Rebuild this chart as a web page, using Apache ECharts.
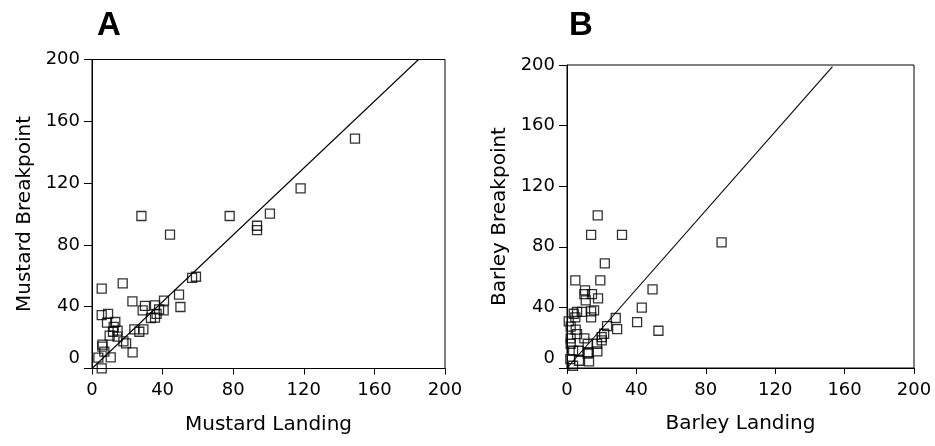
<!DOCTYPE html>
<html><head><meta charset="utf-8">
<script src="https://cdn.jsdelivr.net/npm/echarts@6/dist/echarts.min.js"></script>
<style>html,body{margin:0;padding:0;background:#fff}#c{width:935px;height:446px}</style>
</head><body><div id="c"></div>
<script>
const panelLabels = ['A', 'B'];
const xNames = ['Mustard Landing', 'Barley Landing'];
const yNames = ['Mustard Breakpoint', 'Barley Breakpoint'];
const tickValues = [0, 40, 80, 120, 160, 200];

// Panel A: [landing, breakpoint]
const mustardPoints = [
  [149.0,148.8],[118.2,116.6],[100.8,100.2],[78.0,98.7],[93.5,92.4],[93.5,89.6],
  [28.0,98.7],[44.2,86.6],[58.9,59.4],[56.7,58.6],[17.4,55.1],[5.5,51.7],
  [49.3,47.8],[50.1,39.8],[22.9,43.5],[40.8,43.9],[30.0,40.5],[35.7,40.9],
  [28.7,37.6],[40.6,37.6],[38.0,38.3],[36.6,35.3],[35.7,32.9],[33.4,32.7],
  [5.5,34.6],[9.1,35.3],[8.5,29.7],[13.2,30.1],[12.3,26.9],[14.5,24.5],
  [11.9,23.8],[10.0,21.3],[14.4,20.6],[24.0,25.3],[26.8,23.8],[29.1,25.3],
  [17.8,17.6],[19.3,16.3],[5.9,15.4],[5.9,14.1],[7.0,10.9],[23.0,10.5],
  [3.6,7.0],[10.6,7.2],[5.5,0.1]
];
// Panel B: [landing, breakpoint]
const barleyPoints = [
  [89.1,82.9],[17.7,100.7],[13.9,87.9],[31.7,87.9],[21.8,69.0],[4.8,57.8],
  [19.2,57.8],[49.3,51.9],[10.4,51.2],[10.0,48.8],[14.4,48.8],[10.8,44.6],
  [17.9,45.9],[43.1,39.8],[28.1,33.0],[40.4,30.3],[52.7,24.6],[28.9,25.7],
  [23.1,27.7],[15.6,38.0],[13.9,37.4],[13.9,33.4],[8.5,37.1],[5.8,37.1],
  [3.9,35.8],[4.8,33.4],[1.0,30.8],[2.1,27.3],[5.0,25.3],[5.8,22.4],
  [2.1,19.6],[10.0,19.6],[2.1,16.0],[11.9,16.0],[20.0,18.2],[20.0,20.4],
  [21.4,22.6],[17.3,16.0],[3.5,11.4],[6.7,11.4],[12.5,10.3],[17.5,11.0],
  [11.9,9.5],[1.9,5.9],[6.9,4.8],[12.7,4.4],[3.5,1.5]
];
// Fitted lines (endpoints)
const mustardLine = [[0,0],[185,200]];
const barleyLine = [[0,0],[153,199]];

const FONT = '"DejaVu Sans", Arial, sans-serif';
const TFONT = '"Liberation Sans", Arial, sans-serif';
const grids = [
  {left: 92, top: 59.5, width: 353, height: 309},
  {left: 567, top: 65, width: 347, height: 303}
];

function xAxis(i) {
  return {
    gridIndex: i, type: 'value', min: 0, max: 200, interval: 40,
    name: xNames[i], nameLocation: 'middle', nameGap: 46,
    nameTextStyle: {fontFamily: FONT, fontSize: 20, color: '#000'},
    axisLine: {show: true, onZero: false, lineStyle: {color: '#000', width: 1}},
    axisTick: {show: true, length: 6, lineStyle: {color: '#000'}},
    axisLabel: {fontFamily: FONT, fontSize: 18, color: '#000', margin: 13},
    splitLine: {show: false}
  };
}
function yAxis(i) {
  return {
    gridIndex: i, type: 'value', min: 0, max: 200, interval: 40,
    name: yNames[i], nameLocation: 'middle', nameGap: 57,
    nameTextStyle: {fontFamily: FONT, fontSize: 20, color: '#000'},
    axisLine: {show: true, onZero: false, lineStyle: {color: '#000', width: 1}},
    axisTick: {show: true, length: 8, lineStyle: {color: '#000'}},
    axisLabel: {
      fontFamily: FONT, fontSize: 18, color: '#000', margin: 12,
      formatter: v => v === 0 ? '{z|0}' : String(v),
      rich: {z: {fontFamily: FONT, fontSize: 18, color: '#000', padding: [0, 0, 20, 0]}}
    },
    splitLine: {show: false}
  };
}

const option = {
  backgroundColor: '#fff',
  animation: false,
  title: panelLabels.map((t, i) => ({
    text: t, left: i === 0 ? 92 : 564, top: 4,
    textStyle: {fontFamily: TFONT, fontSize: 33, fontWeight: 'bold', color: '#000'}
  })),
  grid: grids.map(g => Object.assign({show: true, borderColor: '#000', borderWidth: 1, backgroundColor: 'transparent'}, g)),
  xAxis: [xAxis(0), xAxis(1)],
  yAxis: [yAxis(0), yAxis(1)],
  series: [
    {type: 'line', xAxisIndex: 0, yAxisIndex: 0, data: mustardLine, showSymbol: false, symbol: 'none',
     lineStyle: {color: '#000', width: 1.1}, silent: true, z: 3},
    {type: 'line', xAxisIndex: 1, yAxisIndex: 1, data: barleyLine, showSymbol: false, symbol: 'none',
     lineStyle: {color: '#000', width: 1.1}, silent: true, z: 3},
    {type: 'scatter', xAxisIndex: 0, yAxisIndex: 0, data: mustardPoints, symbol: 'rect', symbolSize: 9,
     itemStyle: {color: 'rgba(0,0,0,0)', borderColor: '#000', borderWidth: 1.3}, z: 2},
    {type: 'scatter', xAxisIndex: 1, yAxisIndex: 1, data: barleyPoints, symbol: 'rect', symbolSize: 9,
     itemStyle: {color: 'rgba(0,0,0,0)', borderColor: '#000', borderWidth: 1.3}, z: 2}
  ]
};
const chart = echarts.init(document.getElementById('c'), null, {renderer: 'canvas'});
chart.setOption(option);
</script></body></html>
